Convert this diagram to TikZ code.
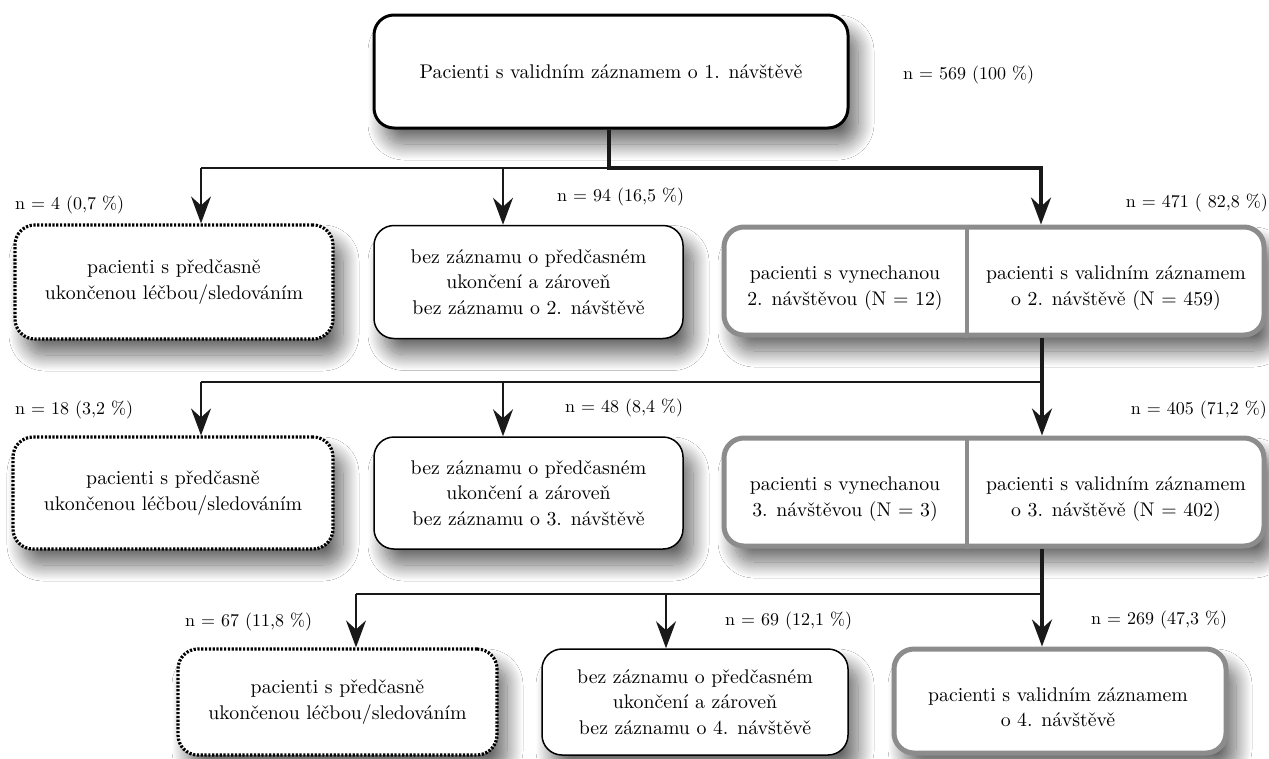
\documentclass[tikz,border=0pt]{standalone}
\usepackage{fontspec}
\newfontfamily\boxfont{lmroman10-regular}[Extension=.otf]
\usetikzlibrary{arrows.meta,shadows.blur}
\definecolor{bordergray}{RGB}{140,140,140}
\begin{document}
\begin{tikzpicture}[x=1pt,y=-1pt,
  bf/.style={font=\boxfont\fontsize{19.8}{25.5}\selectfont},
  boxtext/.style={bf, align=center, inner sep=0pt},
  lab/.style={font=\boxfont\fontsize{18}{22}\selectfont, inner sep=0pt},
  basebox/.style={rounded corners=20pt, fill=white, inner sep=0pt,
     blur shadow={shadow xshift=10pt, shadow yshift=-16pt, shadow blur radius=16pt,
                  shadow blur steps=24, shadow opacity=60}},
  topbox/.style={basebox, draw=black, line width=3pt, bf, align=center},
  dotbox/.style={basebox, draw=black, line width=3.2pt, dash pattern=on 2.2pt off 1.6pt, bf, align=center},
  plainbox/.style={basebox, draw=black, line width=1.5pt, bf, align=center},
  graybox/.style={basebox, draw=bordergray, line width=5pt},
  thinln/.style={line width=1.6pt, draw=black!90},
  thickln/.style={line width=3.6pt, draw=black!90},
  arr/.style={-{Stealth[length=27pt,width=20pt,inset=9pt]}}
]
\useasboundingbox[fill=white] (0,0) rectangle (1269,758);

% top box
\node[topbox, minimum width=474pt, minimum height=113pt] (top) at (611,71.5)
  {Pacienti s validním záznamem o 1. návštěvě};
\node[lab, anchor=west] (l0) at (903,75) {n = 569 (100 \%)};

% row 1
\node[dotbox, minimum width=318pt, minimum height=114pt] (d1) at (174,282)
  {pacienti s předčasně\\ukončenou léčbou/sledováním};
\node[plainbox, minimum width=309pt, minimum height=113pt] (b1) at (528.5,282)
  {bez záznamu o předčasném\\ukončení a zároveň\\bez záznamu o 2. návštěvě};
\node[graybox, minimum width=540pt, minimum height=108pt] (g1) at (994,281) {};
\draw[bordergray, line width=4pt] (g1.north -| 967,0) -- (g1.south -| 967,0);
\node[boxtext] (g1l) at (845,288) {pacienti s vynechanou\\2. návštěvou (N = 12)};
\node[boxtext] (g1r) at (1116,288) {pacienti s validním záznamem\\o 2. návštěvě (N = 459)};

\node[lab, anchor=west] (l11) at (15,205) {n = 4 (0,7 \%)};
\node[lab, anchor=west] (l12) at (557,197) {n = 94 (16,5 \%)};
\node[lab, anchor=east] (l13) at (1268,203) {n = 471 ( 82,8 \%)};

% row 2
\node[dotbox, minimum width=320pt, minimum height=112pt] (d2) at (173,493)
  {pacienti s předčasně\\ukončenou léčbou/sledováním};
\node[plainbox, minimum width=309pt, minimum height=112pt] (b2) at (528.5,493)
  {bez záznamu o předčasném\\ukončení a zároveň\\bez záznamu o 3. návštěvě};
\node[graybox, minimum width=540pt, minimum height=108pt] (g2) at (994,492) {};
\draw[bordergray, line width=4pt] (g2.north -| 967,0) -- (g2.south -| 967,0);
\node[boxtext] (g2l) at (845,499) {pacienti s vynechanou\\3. návštěvou (N = 3)};
\node[boxtext] (g2r) at (1116,499) {pacienti s validním záznamem\\o 3. návštěvě (N = 402)};

\node[lab, anchor=west] (l21) at (15,410) {n = 18 (3,2 \%)};
\node[lab, anchor=west] (l22) at (565,408) {n = 48 (8,4 \%)};
\node[lab, anchor=east] (l23) at (1267,410) {n = 405 (71,2 \%)};

% row 3
\node[dotbox, minimum width=319pt, minimum height=106pt] (d3) at (337.5,702)
  {pacienti s předčasně\\ukončenou léčbou/sledováním};
\node[plainbox, minimum width=306pt, minimum height=106pt] (b3) at (695,702)
  {bez záznamu o předčasném\\ukončení a zároveň\\bez záznamu o 4. návštěvě};
\node[graybox, minimum width=332pt, minimum height=104pt] (g3) at (1060,701) {};
\node[boxtext] (g3t) at (1058,707) {pacienti s validním záznamem\\o 4. návštěvě};

\node[lab, anchor=west] (l31) at (185,622) {n = 67 (11,8 \%)};
\node[lab, anchor=west] (l32) at (725,621) {n = 69 (12,1 \%)};
\node[lab, anchor=west] (l33) at (1091,620) {n = 269 (47,3 \%)};

% connectors row 1
\coordinate (j1) at (609,168);
\coordinate (a11) at (201,168);
\coordinate (a12) at (503,168);
\coordinate (a13) at (1041,168);
\draw[thinln] (j1) -- (a11);
\draw[thinln, arr] (a11) -- (a11 |- d1.north);
\draw[thinln, arr] (a12) -- (a12 |- b1.north);
\draw[thickln, arr] (top.south -| j1) -- (j1) -- (a13) -- (a13 |- g1.north);

% connectors row 2
\coordinate (j2) at (1042,382);
\coordinate (a21) at (201,382);
\coordinate (a22) at (503,382);
\draw[thinln] (j2) -- (a21);
\draw[thinln, arr] (a21) -- (a21 |- d2.north);
\draw[thinln, arr] (a22) -- (a22 |- b2.north);
\draw[thickln, arr] (g1.south -| j2) -- (j2) -- (j2 |- g2.north);

% connectors row 3
\coordinate (j3) at (1042,594);
\coordinate (a31) at (356,594);
\coordinate (a32) at (666,594);
\draw[thinln] (j3) -- (a31);
\draw[thinln, arr] (a31) -- (a31 |- d3.north);
\draw[thinln, arr] (a32) -- (a32 |- b3.north);
\draw[thickln, arr] (g2.south -| j3) -- (j3) -- (j3 |- g3.north);
\end{tikzpicture}
\end{document}
